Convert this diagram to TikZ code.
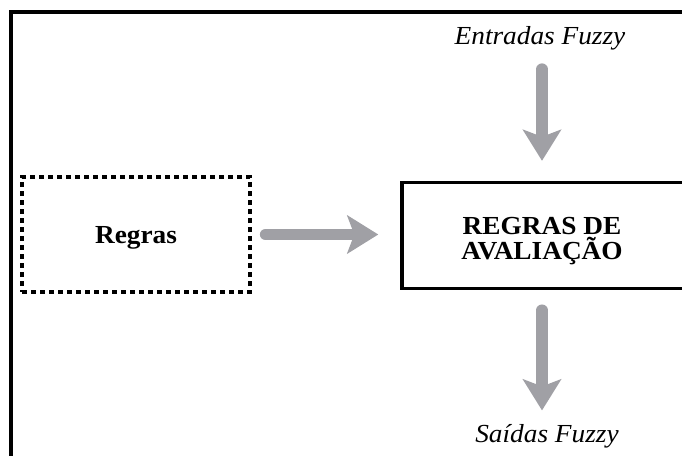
\documentclass[tikz,border=0pt]{standalone}
\usepackage{fontspec}
\setmainfont{Liberation Serif}[FakeStretch=1.05]
\usetikzlibrary{arrows.meta,positioning}

\definecolor{arrowgray}{RGB}{160,160,165}

\tikzset{
    flow/.style={draw=arrowgray, line width=11.5pt, line cap=round,
        -{Stealth[length=31pt,width=38pt,inset=7pt]}},
    fuzzytext/.style={anchor=base, font=\itshape\fontsize{26}{26}\selectfont},
    boldtext/.style={font=\bfseries\fontsize{26}{25}\selectfont, align=center}
}

\begin{document}
\begin{tikzpicture}[x=1pt, y=-1pt]
                    \useasboundingbox (0, 0) rectangle (682, 455);
                    \clip (0, 0) rectangle (682, 455);
                    % Frame
                    \draw[line width=3.6pt] (11, 12) rectangle (700, 480);
                    % Labels
                    \node[fuzzytext] (inp) at (540, 44) {Entradas Fuzzy};
                    \node[fuzzytext] (out) at (547, 442) {Saídas Fuzzy};
                    % Boxes
                    \node[draw, line width=3.2pt, dash pattern=on 5pt off 4pt,
                        minimum width=228pt, minimum height=115pt, text depth=0pt, boldtext]
                        (rules) at (136, 234.5) {Regras};
                    \node[draw, line width=3.4pt, minimum width=300pt,
                        minimum height=106pt] (eval) at (552, 235.5) {};
                    \node[boldtext] (evaltxt) at (542, 241) {REGRAS DE\\AVALIAÇÃO};
                    % Arrows
                    \draw[flow, shorten <=14pt, shorten >=22pt] (rules.east) -- (eval.west |- rules.east);
                    \draw[flow, shorten <=16pt, shorten >=20pt] (evaltxt |- inp.south) -- (evaltxt |- eval.north);
                    \draw[flow, shorten <=20pt, shorten >=10pt] (evaltxt |- eval.south) -- (evaltxt |- out.north);
\end{tikzpicture}
\end{document}
